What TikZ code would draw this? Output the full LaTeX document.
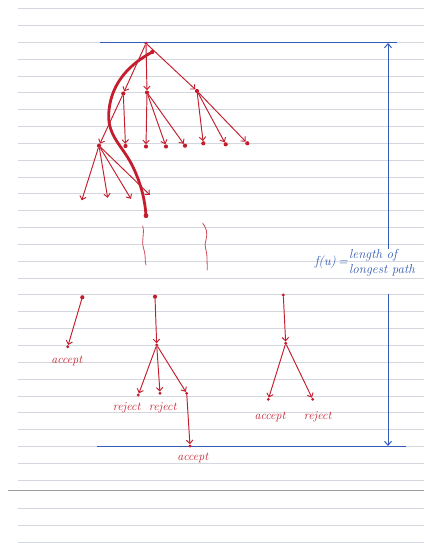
\documentclass[tikz,border=0pt]{standalone}
\usetikzlibrary{arrows.meta}
\definecolor{inkred}{RGB}{196,30,46}
\definecolor{inkblue}{RGB}{52,92,182}
\definecolor{rulegray}{RGB}{212,215,221}
\definecolor{margray}{RGB}{155,157,162}
\tikzset{
  redline/.style={draw=inkred, line width=0.95pt, line cap=round},
  redarrow/.style={redline, -{Straight Barb[length=3.4pt,width=6.5pt]}},
  dot/.style={circle, fill=inkred, inner sep=0pt, minimum size=4.2pt},
  smalldot/.style={circle, fill=inkred, inner sep=0pt, minimum size=3.2pt},
  tip/.style={inner sep=0pt, minimum size=0pt},
  hand/.style={text=inkred, font=\fontsize{12}{13}\selectfont\itshape, inner sep=0pt},
  blueline/.style={draw=inkblue, line width=1.2pt},
  bluearrow/.style={draw=inkblue, line width=1pt, -{Straight Barb[length=4pt,width=7pt]}},
  bluetext/.style={text=inkblue, font=\fontsize{13}{15}\selectfont\itshape, inner sep=0pt},
  rule/.style={draw=rulegray, line width=1pt}
}
\begin{document}
\begin{tikzpicture}[x=1pt,y=-1pt]
\useasboundingbox (0,0) rectangle (424,543);
\fill[white] (0,0) rectangle (424,543);
% ruled paper
\foreach \k in {0,...,28}{
  \pgfmathsetmacro{\yy}{8.7+16.84*\k}
  \draw[rule] (18,\yy) -- (424,\yy);
}
\draw[draw=margray, line width=1.6pt] (8,490.5) -- (424,490.5);
\foreach \yy in {508.5,525.3,542}{
  \draw[rule] (18,\yy) -- (424,\yy);
}
% blue frame
\coordinate (tl) at (100,42.4);
\coordinate (tr) at (397,42.4);
\coordinate (bl) at (97,446.5);
\coordinate (br) at (406,446.5);
\draw[blueline] (tl) -- (tr);
\draw[blueline] (bl) -- (br);
\coordinate (atop) at (388,43);
\coordinate (amid1) at (388,249);
\coordinate (amid2) at (388,294);
\coordinate (abot) at (388,446);
\draw[bluearrow] (amid1) -- (atop);
\draw[bluearrow] (amid2) -- (abot);
\node[bluetext, anchor=east] (fu) at (348,262) {f(u)\,=};
\node[bluetext, anchor=west, align=left] (flab) at (349,263) {length of\\longest path};
% upper tree
\node[smalldot] (root) at (146,43.3) {};
\node[dot] (s) at (152.3,52) {};
\node[dot] (A) at (123.3,93.5) {};
\node[dot] (B) at (147,92.5) {};
\node[dot] (C) at (197,91) {};
\node[dot] (D) at (99,145.7) {};
\node[dot] (E) at (125.5,146) {};
\node[dot] (F) at (146,146.5) {};
\node[dot] (G) at (166,146.5) {};
\node[dot] (H) at (185,145.7) {};
\node[dot] (I) at (203.3,143.3) {};
\node[dot] (J) at (225.7,144.3) {};
\node[dot] (K) at (247.3,143.3) {};
\node[tip] (d1) at (81.7,200.5) {};
\node[tip] (d2) at (107.7,198) {};
\node[tip] (d3) at (131,199) {};
\node[tip] (d4) at (150,195) {};
\node[dot, minimum size=4.8pt] (e) at (146,215.7) {};
\draw[redarrow] (root) -- (A);
\draw[redarrow] (root) -- (B);
\draw[redarrow] (root) -- (C);
\draw[redarrow] (A) -- (D);
\draw[redarrow] (A) -- (E);
\draw[redarrow] (B) -- (F);
\draw[redarrow] (B) -- (G);
\draw[redarrow] (B) -- (H);
\draw[redarrow] (C) -- (I);
\draw[redarrow] (C) -- (J);
\draw[redarrow] (C) -- (K);
\draw[redarrow] (D) -- (d1);
\draw[redarrow] (D) -- (d2);
\draw[redarrow] (D) -- (d3);
\draw[redarrow] (D) -- (d4);
% longest path
\draw[draw=inkred, line width=2.8pt, line cap=round]
  (s.center) .. controls (130,64) and (112,82) .. (109,110)
  .. controls (106,135) and (122,145) .. (132,165)
  .. controls (141,183) and (145,200) .. (e.center);
% squiggles
\draw[draw=inkred!80, line width=0.8pt, line cap=round]
  (142.7,226) .. controls (145,234) and (141,240) .. (143.5,248)
  .. controls (146,255) and (144.5,260) .. (146,265);
\draw[draw=inkred!80, line width=0.8pt, line cap=round]
  (202.7,223.3) .. controls (206,227) and (208,233) .. (206,240)
  .. controls (203.5,246) and (207,250) .. (207,258) -- (207.3,270);
% bottom trees
\node[dot] (L1) at (82.3,297.3) {};
\node[smalldot] (L2) at (67.7,346.7) {};
\node[hand] at (66.7,361) {accept};
\draw[redarrow] (L1) -- (L2);
\node[dot] (M1) at (155,296.7) {};
\node[smalldot] (M2) at (156.7,345) {};
\node[smalldot] (M3) at (138.3,395) {};
\node[smalldot] (M4) at (160,393.3) {};
\node[smalldot] (M5) at (186.7,393.3) {};
\node[smalldot] (M6) at (190,446) {};
\draw[redarrow] (M1) -- (M2);
\draw[redarrow] (M2) -- (M3);
\draw[redarrow] (M2) -- (M4);
\draw[redarrow] (M2) -- (M5);
\draw[redarrow] (M5) -- (M6);
\node[hand] at (126.7,408.3) {reject};
\node[hand] at (162.7,407.7) {reject};
\node[hand] at (192.7,458.3) {accept};
\node[smalldot] (R1) at (283.3,295) {};
\node[smalldot] (R2) at (285.7,343.3) {};
\node[smalldot] (R3) at (268.3,399.3) {};
\node[smalldot] (R4) at (312.7,399.3) {};
\draw[redarrow] (R1) -- (R2);
\draw[redarrow] (R2) -- (R3);
\draw[redarrow] (R2) -- (R4);
\node[hand] at (270,416.7) {accept};
\node[hand] at (317.7,416.7) {reject};
\end{tikzpicture}
\end{document}
